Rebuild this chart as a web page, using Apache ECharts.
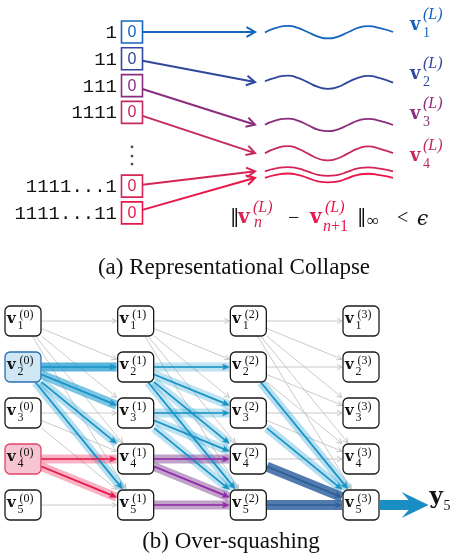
<!DOCTYPE html>
<html>
<head>
<meta charset="utf-8">
<script src="https://cdn.jsdelivr.net/npm/echarts@6/dist/echarts.min.js"></script>
<style>
  html, body { margin: 0; padding: 0; background: #fff; }
  #chart { width: 453px; height: 556px; }
</style>
</head>
<body>
<div id="chart"></div>
<script>
// ---------- panel (a): representational collapse ----------
const inputStrings = ['1', '11', '111', '1111', '1111...1', '1111...11'];
const inputRow = [0, 1, 2, 3, 5.75, 6.75];              // row of each "0" cell
const collapseLevel = [0, 1.87, 3.46, 4.52, 5.2, 5.44]; // level of each final representation
const arrowTipX = 4.59;
const waveX = [4.96, 5.37, 5.82, 6.19, 6.57, 6.94, 7.31, 7.69, 8.06, 8.43, 8.81, 9.25, 9.74];
const waveOffset = [
  [0.02, -0.15, -0.23, -0.15, 0.01, 0.17, 0.24, 0.17, 0.01, -0.15, -0.22, -0.14, 0.00],
  [-0.03, -0.17, -0.24, -0.16, 0.01, 0.18, 0.25, 0.18, 0.00, -0.16, -0.23, -0.15, 0.02],
  [0.00, -0.16, -0.23, -0.15, 0.02, 0.18, 0.24, 0.17, 0.01, -0.15, -0.22, -0.14, 0.01],
  [0.00, -0.18, -0.26, -0.17, 0.02, 0.20, 0.27, 0.19, 0.01, -0.17, -0.25, -0.16, 0.00],
  [0.00, -0.11, -0.16, -0.11, 0.01, 0.13, 0.17, 0.13, 0.01, -0.11, -0.15, -0.10, 0.00],
  [0.00, -0.11, -0.16, -0.11, 0.01, 0.13, 0.17, 0.13, 0.01, -0.11, -0.15, -0.10, 0.00]
];
const outLabelX = 10.37;
const outLabelRow = [-0.22, 1.6, 3.1, 4.66];
const ellipsisRow = [4.29, 4.63, 4.93];

// ---------- panel (b): over-squashing ----------
const layerIds = [0, 1, 2, 3];
const tokenIds = [1, 2, 3, 4, 5];
const blueSource = 2;
const redSource = 4;
const readoutToken = 5;
const readoutX = 3.6;
// highlighted message-passing paths: [layer, from token, to token]
const pathEdges = [
  [0, 2, 2], [0, 2, 3], [0, 2, 4], [0, 2, 5], [0, 4, 4], [0, 4, 5],
  [1, 2, 2], [1, 2, 3], [1, 2, 4], [1, 2, 5], [1, 3, 3], [1, 3, 4], [1, 3, 5],
  [1, 4, 4], [1, 4, 5], [1, 5, 5],
  [2, 2, 5], [2, 3, 5], [2, 4, 5], [2, 5, 5]
];
const pathKind = [
  'blue', 'blue', 'blue', 'blue', 'red', 'red',
  'blue', 'blue', 'blue', 'blue', 'blue', 'blue', 'blue',
  'purple', 'purple', 'purple',
  'blue', 'blue', 'navy', 'navy'
];
const pathWeight = [
  0.7, 0.55, 0.3, 0.3, 0.35, 0.35,
  0.27, 0.27, 0.27, 0.27, 0.27, 0.27, 0.27,
  0.45, 0.45, 0.45,
  0.3, 0.3, 0.85, 0.85
];

// ---------- styling ----------
const rowColor = ['#1565c0', '#30489b', '#8b2d7e', '#c42a5c', '#d62454', '#e8174a'];
const kindColor = { blue: '#1494c8', red: '#e8174a', purple: '#9427ad', navy: '#2f5e98' };
const kindHalo = { blue: '20,150,205', red: '235,35,85', purple: '115,50,135', navy: '50,100,160' };
const U = 26.8;             // px per unit in panel (a)
const BOX_W = 36, BOX_H = 30;
const SERIF = '"Liberation Serif", "Times New Roman", serif';
const BOLDV = '"DejaVu Serif", serif';

function clipToBox(c, toward, hw, hh) {
  const dx = toward[0] - c[0], dy = toward[1] - c[1];
  const tx = dx ? hw / Math.abs(dx) : Infinity;
  const ty = dy ? hh / Math.abs(dy) : Infinity;
  const t = Math.min(tx, ty);
  return [c[0] + dx * t, c[1] + dy * t];
}
function unit(p, q) {
  const dx = q[0] - p[0], dy = q[1] - p[1];
  const d = Math.hypot(dx, dy) || 1;
  return [dx / d, dy / d];
}
function barbs(p, q, len, half) {
  const u = unit(p, q);
  const bx = q[0] - u[0] * len, by = q[1] - u[1] * len;
  return [[bx - u[1] * half, by + u[0] * half], [q[0], q[1]], [bx + u[1] * half, by - u[0] * half]];
}
function stealth(p, q, len, half, notch) {
  const u = unit(p, q);
  const bx = q[0] - u[0] * len, by = q[1] - u[1] * len;
  return [[q[0], q[1]], [bx - u[1] * half, by + u[0] * half],
          [q[0] - u[0] * (len - notch), q[1] - u[1] * (len - notch)],
          [bx + u[1] * half, by - u[0] * half]];
}
function edgeEnds(api, l, i, j) {
  const a = api.coord([l, i]), b = api.coord([l + 1, j]);
  return [clipToBox(a, b, BOX_W / 2 + 0.5, BOX_H / 2 + 0.5),
          clipToBox(b, a, BOX_W / 2 + 1, BOX_H / 2 + 1)];
}
function txt(text, x, y, font, fill, align) {
  return { type: 'text', style: { text, x, y, font, fill, align: align || 'left', verticalAlign: 'middle' } };
}

// all causal connections between consecutive layers
const causalEdges = [];
[0, 1, 2].forEach(l => tokenIds.forEach(i => tokenIds.forEach(j => { if (j >= i) causalEdges.push([l, i, j]); })));
const nodes = [];
layerIds.forEach(l => tokenIds.forEach(t => nodes.push([l, t])));

const chart = echarts.init(document.getElementById('chart'));

const option = {
  animation: false,
  backgroundColor: '#fff',
  grid: [
    { left: 0, top: 0, width: 453, height: 250 },
    { left: 23, top: 321, width: 338, height: 184 }
  ],
  xAxis: [
    { gridIndex: 0, type: 'value', min: -132 / U, max: (453 - 132) / U, show: false },
    { gridIndex: 1, type: 'value', min: 0, max: 3, show: false }
  ],
  yAxis: [
    { gridIndex: 0, type: 'value', min: -32 / U, max: (250 - 32) / U, inverse: true, show: false },
    { gridIndex: 1, type: 'value', min: 1, max: 5, inverse: true, show: false }
  ],
  series: [
    // arrows from each input cell to its final representation
    {
      type: 'custom', xAxisIndex: 0, yAxisIndex: 0, silent: true, z: 3,
      data: collapseLevel.map((lev) => [arrowTipX, lev]),
      renderItem: (params, api) => {
        const i = params.dataIndex;
        const tip = api.coord([arrowTipX, collapseLevel[i]]);
        const c = api.coord([0, inputRow[i]]);
        const s = clipToBox(c, tip, 10.5, 11);
        const u = unit(s, tip);
        const end = [tip[0] - u[0] * 1.5, tip[1] - u[1] * 1.5];
        return {
          type: 'group', children: [
            { type: 'line', shape: { x1: s[0], y1: s[1], x2: end[0], y2: end[1] },
              style: { stroke: rowColor[i], lineWidth: 2 } },
            { type: 'polyline', shape: { points: barbs(s, tip, 8.5, 4.8) },
              style: { stroke: rowColor[i], lineWidth: 2, fill: 'none', lineJoin: 'miter' } }
          ]
        };
      }
    },
    // input cells with their strings
    {
      type: 'custom', xAxisIndex: 0, yAxisIndex: 0, silent: true, z: 4,
      data: inputRow.map(r => [0, r]),
      renderItem: (params, api) => {
        const i = params.dataIndex;
        const c = api.coord([0, inputRow[i]]);
        return {
          type: 'group', children: [
            { type: 'rect', shape: { x: c[0] - 10.5, y: c[1] - 11, width: 21, height: 22 },
              style: { fill: '#fff', stroke: rowColor[i], lineWidth: 1.6 } },
            txt('0', c[0], c[1] + 0.5, '16px "Liberation Sans", sans-serif', rowColor[i], 'center'),
            txt(inputStrings[i], c[0] - 15, c[1] + 1, '19px "Liberation Mono", monospace', '#111', 'right')
          ]
        };
      }
    },
    // vertical ellipsis
    {
      type: 'scatter', xAxisIndex: 0, yAxisIndex: 0, silent: true, z: 4,
      data: ellipsisRow.map(r => [0, r]), symbolSize: 2.8,
      itemStyle: { color: '#222' }
    },
    // final-layer representations
    ...collapseLevel.map((lev, i) => ({
      type: 'line', xAxisIndex: 0, yAxisIndex: 0, silent: true, z: 3, clip: false,
      data: waveX.map((x, k) => [x, lev + waveOffset[i][k]]),
      smooth: 0.6, symbol: 'none',
      lineStyle: { color: rowColor[i], width: 1.8 }
    })),
    // v_i^(L) labels
    {
      type: 'custom', xAxisIndex: 0, yAxisIndex: 0, silent: true, z: 4,
      data: outLabelRow.map(r => [outLabelX, r]),
      renderItem: (params, api) => {
        const i = params.dataIndex;
        const c = api.coord([outLabelX, outLabelRow[i]]);
        return {
          type: 'group', children: [
            txt('v', c[0], c[1] - 1, 'bold 18px ' + BOLDV, rowColor[i]),
            txt(String(i + 1), c[0] + 13, c[1] + 7, '14px ' + SERIF, rowColor[i]),
            txt('(L)', c[0] + 13, c[1] - 11, 'italic 16px ' + SERIF, rowColor[i])
          ]
        };
      }
    },

    // ---- panel (b) ----
    // every causal connection, thin grey
    {
      type: 'custom', xAxisIndex: 1, yAxisIndex: 1, silent: true, z: 2,
      data: causalEdges.map(e => [e[0], e[1]]),
      renderItem: (params, api) => {
        const e = causalEdges[params.dataIndex];
        const [s, t] = edgeEnds(api, e[0], e[1], e[2]);
        const u = unit(s, t);
        return {
          type: 'group', children: [
            { type: 'line', shape: { x1: s[0], y1: s[1], x2: t[0] - u[0], y2: t[1] - u[1] },
              style: { stroke: '#c4c4c4', lineWidth: 0.9 } },
            { type: 'polyline', shape: { points: barbs(s, t, 5, 2.6) },
              style: { stroke: '#c4c4c4', lineWidth: 1, fill: 'none' } }
          ]
        };
      }
    },
    // translucent bands along highlighted paths
    {
      type: 'custom', xAxisIndex: 1, yAxisIndex: 1, silent: true, z: 3,
      data: pathEdges.map(e => [e[0], e[1]]),
      renderItem: (params, api) => {
        const k = params.dataIndex, e = pathEdges[k];
        const [s, t] = edgeEnds(api, e[0], e[1], e[2]);
        const w = pathKind[k] === 'navy' ? 10 : 9;
        return {
          type: 'line', shape: { x1: s[0], y1: s[1], x2: t[0], y2: t[1] },
          style: { stroke: 'rgba(' + kindHalo[pathKind[k]] + ',' + pathWeight[k] + ')', lineWidth: w, lineCap: 'butt' }
        };
      }
    },
    // highlighted paths
    {
      type: 'custom', xAxisIndex: 1, yAxisIndex: 1, silent: true, z: 4,
      data: pathEdges.map(e => [e[0], e[1]]),
      renderItem: (params, api) => {
        const k = params.dataIndex, e = pathEdges[k];
        const [s, t] = edgeEnds(api, e[0], e[1], e[2]);
        const u = unit(s, t);
        const col = kindColor[pathKind[k]];
        return {
          type: 'group', children: [
            { type: 'line', shape: { x1: s[0], y1: s[1], x2: t[0] - u[0] * 5, y2: t[1] - u[1] * 5 },
              style: { stroke: col, lineWidth: 1.7 } },
            { type: 'polygon', shape: { points: stealth(s, t, 7.5, 3.3, 2) },
              style: { fill: col } }
          ]
        };
      }
    },
    // readout arrow to y_5
    {
      type: 'custom', xAxisIndex: 1, yAxisIndex: 1, silent: true, z: 6,
      data: [[readoutX, readoutToken]],
      renderItem: (params, api) => {
        const c = api.coord([3, readoutToken]);
        const tip = api.coord([readoutX, readoutToken]);
        const x0 = c[0] + BOX_W / 2, y = c[1];
        const headLen = 27, half = 13, notch = 6, shaft = 5;
        const hx = tip[0] - headLen;
        return {
          type: 'group', children: [
            { type: 'polygon', shape: { points: [
                [x0, y - shaft], [hx + notch + 1, y - shaft], [hx, y - half], [tip[0], y],
                [hx, y + half], [hx + notch + 1, y + shaft], [x0, y + shaft]] },
              style: { fill: '#1a8dc4' } },
            txt('y', tip[0] + 1, y - 8, 'bold 23px ' + BOLDV, '#111'),
            txt('5', tip[0] + 15, y + 1, '14px ' + SERIF, '#111')
          ]
        };
      }
    },
    // token nodes
    {
      type: 'custom', xAxisIndex: 1, yAxisIndex: 1, silent: true, z: 5,
      data: nodes,
      renderItem: (params, api) => {
        const [l, t] = nodes[params.dataIndex];
        const c = api.coord([l, t]);
        let fill = '#fff', stroke = '#1a1a1a';
        if (l === 0 && t === blueSource) { fill = '#cfe7f3'; stroke = '#2a6cb5'; }
        if (l === 0 && t === redSource) { fill = '#f7c5d1'; stroke = '#e2436a'; }
        return {
          type: 'group', children: [
            { type: 'rect', shape: { x: c[0] - BOX_W / 2, y: c[1] - BOX_H / 2, width: BOX_W, height: BOX_H, r: 5 },
              style: { fill, stroke, lineWidth: 1.3 } },
            txt('v', c[0] - 16, c[1] - 1.5, 'bold 15px ' + BOLDV, '#111'),
            txt('(' + l + ')', c[0] - 3.5, c[1] - 6.5, '12px ' + SERIF, '#111'),
            txt(String(t), c[0] - 5.5, c[1] + 4.5, '12px ' + SERIF, '#111')
          ]
        };
      }
    }
  ],
  graphic: [
    // ||v_n^(L) - v_{n+1}^(L)||_inf < eps
    { type: 'group', x: 0, y: 0, silent: true, children: [
      txt('\u2016', 230, 217, '19px "DejaVu Serif", serif', '#111'),
      txt('v', 238, 218, 'bold 20px ' + BOLDV, rowColor[4]),
      txt('(L)', 253, 208, 'italic 16px ' + SERIF, rowColor[4]),
      txt('n', 254, 223, 'italic 16px ' + SERIF, rowColor[4]),
      txt('\u2212', 288, 219, '20px ' + SERIF, '#111'),
      txt('v', 310, 218, 'bold 20px ' + BOLDV, rowColor[5]),
      txt('(L)', 325, 208, 'italic 16px ' + SERIF, rowColor[5]),
      { type: 'text', style: { text: '{i|n}{r|+1}', x: 323, y: 227, verticalAlign: 'middle',
          rich: { i: { font: 'italic 16px ' + SERIF, fill: rowColor[5] }, r: { font: '16px ' + SERIF, fill: rowColor[5] } } } },
      txt('\u2016', 357, 217, '19px "DejaVu Serif", serif', '#111'),
      txt('\u221e', 367, 222, '17px ' + SERIF, '#111'),
      txt('<', 397, 219, '20px ' + SERIF, '#111'),
      txt('\u03f5', 417, 220, 'italic 20px "DejaVu Serif", serif', '#111')
    ] },
    { type: 'text', x: 234, y: 268, silent: true,
      style: { text: '(a) Representational Collapse', font: '23px ' + SERIF, fill: '#111', align: 'center', verticalAlign: 'middle' } },
    { type: 'text', x: 231, y: 542, silent: true,
      style: { text: '(b) Over-squashing', font: '23px ' + SERIF, fill: '#111', align: 'center', verticalAlign: 'middle' } }
  ]
};

chart.setOption(option);
</script>
</body>
</html>
